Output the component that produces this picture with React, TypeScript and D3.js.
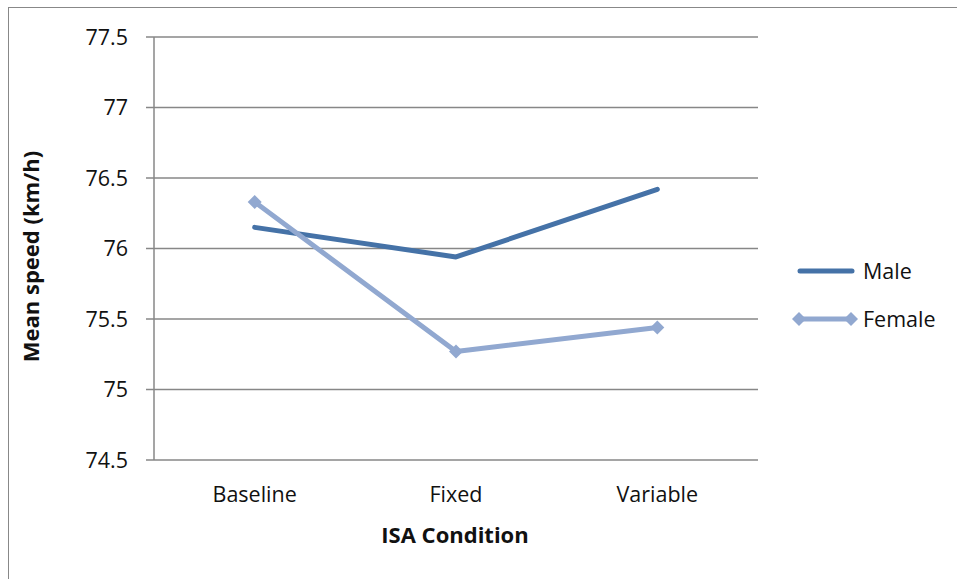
import React from "react";
import * as d3 from "d3";

const categories = ["Baseline", "Fixed", "Variable"];
const maleValues = [76.15, 75.94, 76.42];
const femaleValues = [76.33, 75.27, 75.44];
const yTicks = [74.5, 75, 75.5, 76, 76.5, 77, 77.5];
const seriesNames = ["Male", "Female"];

const W = 957;
const H = 579;
const M = { left: 154, right: 758, top: 37, bottom: 460 };
const MALE = "#4572A7";
const FEMALE = "#91A8D0";
const GRID = "#878787";
const FONT = "'Open Sans', 'Liberation Sans', sans-serif";
const FS = 21.5;

export default function App() {
  const x = d3.scaleBand<string>().domain(categories).range([M.left, M.right]);
  const y = d3.scaleLinear().domain([74.5, 77.5]).range([M.bottom, M.top]);
  const cx = (c: string) => (x(c) as number) + x.bandwidth() / 2;
  const line = d3
    .line<number>()
    .x((_, i) => cx(categories[i]))
    .y((v) => y(v));
  const diamond = (px: number, py: number, r: number) =>
    `M${px},${py - r}L${px + r},${py}L${px},${py + r}L${px - r},${py}Z`;

  return (
    <svg
      width={W}
      height={H}
      style={{ position: "absolute", left: 0, top: 0 }}
      fontFamily={FONT}
    >
      <rect x={0} y={0} width={W} height={H} fill="#fff" />
      <rect x={8.5} y={7.5} width={W + 20} height={H + 20} fill="none" stroke="#888" strokeWidth={1} />
      {yTicks.map((t) => (
        <g key={t}>
          <line x1={M.left - 8} x2={M.right} y1={y(t)} y2={y(t)} stroke={GRID} strokeWidth={1.5} />
          <text x={128} y={y(t)} dy="0.35em" textAnchor="end" fontSize={FS} fill="#111">
            {t}
          </text>
        </g>
      ))}
      <line x1={M.left} x2={M.left} y1={M.top} y2={M.bottom} stroke={GRID} strokeWidth={1.5} />
      {categories.map((c) => (
        <text key={c} x={cx(c)} y={494} dy="0.35em" textAnchor="middle" fontSize={FS} fill="#111">
          {c}
        </text>
      ))}
      <text x={455} y={535} dy="0.35em" textAnchor="middle" fontSize={22} fontWeight="bold" fill="#111">
        ISA Condition
      </text>
      <text
        transform={`translate(31,${(M.top + M.bottom) / 2 + 8}) rotate(-90)`}
        dy="0.35em"
        textAnchor="middle"
        fontSize={22}
        fontWeight="bold"
        fill="#111"
      >
        Mean speed (km/h)
      </text>
      <path d={line(maleValues) || ""} fill="none" stroke={MALE} strokeWidth={5} strokeLinecap="round" strokeLinejoin="round" />
      <path d={line(femaleValues) || ""} fill="none" stroke={FEMALE} strokeWidth={5} strokeLinejoin="round" />
      {femaleValues.map((v, i) => (
        <path key={i} d={diamond(cx(categories[i]), y(v), 7)} fill={FEMALE} />
      ))}
      <line x1={800} x2={852} y1={271} y2={271} stroke={MALE} strokeWidth={5} strokeLinecap="round" />
      <text x={863} y={271} dy="0.35em" fontSize={FS} fill="#111">
        {seriesNames[0]}
      </text>
      <line x1={799} x2={851} y1={319} y2={319} stroke={FEMALE} strokeWidth={5} />
      <path d={diamond(799, 319, 7)} fill={FEMALE} />
      <path d={diamond(851, 319, 7)} fill={FEMALE} />
      <text x={863} y={319} dy="0.35em" fontSize={FS} fill="#111">
        {seriesNames[1]}
      </text>
    </svg>
  );
}
